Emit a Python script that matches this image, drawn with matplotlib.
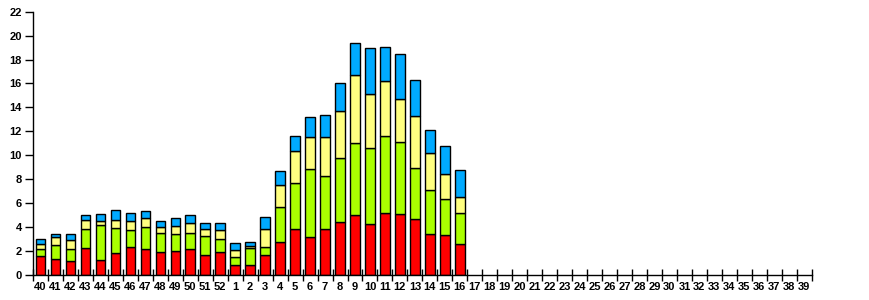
import numpy as np
import matplotlib
matplotlib.use('Agg')
import matplotlib.pyplot as plt

# Weeks 40..52, then 1..39
weeks = [str(w) for w in list(range(40, 53)) + list(range(1, 40))]

# cumulative tops (weeks 40..16)
red_top = [1.56, 1.31, 1.14, 2.23, 1.23, 1.81, 2.31, 2.14, 1.89, 1.98, 2.14, 1.64, 1.89,
           0.81, 0.81, 1.64, 2.73, 3.82, 3.15, 3.82, 4.40, 4.99, 4.23, 5.15, 5.07, 4.65,
           3.40, 3.31, 2.56]
green_top = [2.14, 2.48, 2.14, 3.82, 4.15, 3.90, 3.73, 3.98, 3.48, 3.40, 3.48, 3.23, 2.98,
             1.48, 2.23, 2.31, 5.65, 7.66, 8.83, 8.25, 9.75, 11.00, 10.58, 11.59, 11.09, 8.91,
             7.08, 6.32, 5.15]
yellow_top = [2.56, 3.20, 2.90, 4.57, 4.48, 4.57, 4.48, 4.74, 3.98, 4.07, 4.32, 3.82, 3.73,
              2.06, 2.40, 3.82, 7.49, 10.33, 11.50, 11.50, 13.68, 16.69, 15.10, 16.18, 14.68, 13.26,
              10.17, 8.41, 6.49]
blue_top = [2.98, 3.40, 3.40, 4.99, 5.07, 5.40, 5.15, 5.32, 4.48, 4.74, 4.99, 4.32, 4.32,
            2.65, 2.73, 4.82, 8.66, 11.59, 13.18, 13.34, 16.02, 19.36, 18.94, 19.03, 18.44, 16.27,
            12.09, 10.75, 8.75]

red = np.array(red_top)
green = np.array(green_top) - red
yellow = np.array(yellow_top) - np.array(green_top)
blue = np.array(blue_top) - np.array(yellow_top)

fig = plt.figure(figsize=(8.7, 3.0), dpi=100)
ax = fig.add_axes([0.038, 0.0833, 0.895, 0.878])

x = np.arange(len(red))
w = 0.64
kw = dict(width=w, edgecolor='black', linewidth=1.0)
ax.bar(x, red, color='#ff0000', **kw)
ax.bar(x, green, bottom=red, color='#aaff00', **kw)
ax.bar(x, yellow, bottom=red + green, color='#ffff80', **kw)
ax.bar(x, blue, bottom=red + green + yellow, color='#00aaff', **kw)

ax.set_xlim(-0.5, len(weeks) - 0.5)
ax.set_ylim(0, 22)
ax.set_yticks(range(0, 23, 2))
ax.set_xticks(range(len(weeks)))
ax.set_xticklabels(weeks)
ax.set_xticks(np.arange(-0.5, len(weeks)), minor=True)
ax.tick_params(axis='x', which='major', length=0, pad=5)
ax.tick_params(axis='x', which='minor', direction='inout', length=8, width=1)
ax.tick_params(axis='y', direction='out', length=6, width=1, pad=2)

for lab in ax.get_xticklabels() + ax.get_yticklabels():
    lab.set_fontfamily('Liberation Sans')
    lab.set_fontweight('bold')
    lab.set_fontsize(8)

for s in ['top', 'right']:
    ax.spines[s].set_visible(False)
ax.spines['left'].set_linewidth(1)
ax.spines['bottom'].set_linewidth(1)

fig.savefig('out.png', dpi=100)
